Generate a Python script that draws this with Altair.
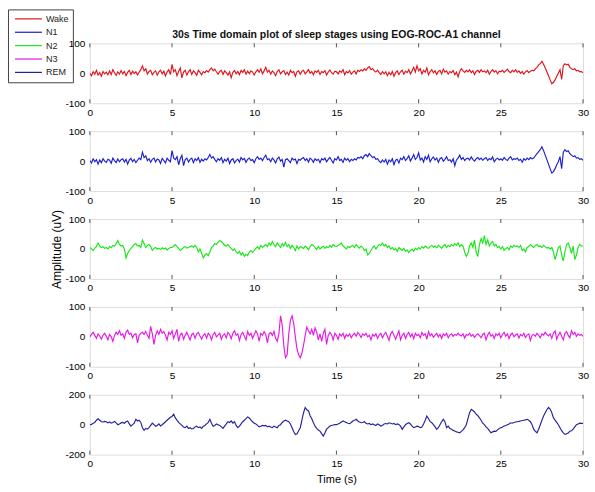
import altair as alt
import pandas as pd

TITLE = "30s Time domain plot of sleep stages using EOG-ROC-A1 channel"
STAGES = ["Wake", "N1", "N2", "N3", "REM"]
COLORS = ["#e0141b", "#1a1fd0", "#18e818", "#e618e6", "#23239a"]
XTICKS = [0, 5, 10, 15, 20, 25, 30]
YTICKS_SMALL = [-100, 0, 100]
YTICKS_LARGE = [-200, 0, 200]
STEP = 0.1  # seconds between samples

WAKE = [
    0, -8, 5, -3, 10, -6, 2, -10, 6, -2,
    4, -5, 8, -4, 12, 2, -7, 5, -3, 9,
    -2, 6, -8, 3, 10, -4, 7, -1, 5, -6,
    4, 12, 25, 8, 15, -3, 6, 10, -5, 3,
    8, -6, 5, 10, -2, 7, -9, 4, 12, -4,
    30, 5, 12, -8, 6, 18, -15, 4, 10, -6,
    5, 12, -4, 8, 2, -7, 10, 3, -5, 6,
    2, 9, 4, 12, 18, 8, 14, 5, -3, 6,
    10, -4, 8, 2, -6, 5, -15, 3, 9, -2,
    6, -5, 10, 3, 12, -3, 7, -1, 8, 4,
    -6, 5, 12, 3, 15, -2, 8, 20, 4, 10,
    -3, 8, 2, -8, 6, 12, -2, 5, 9, -4,
    4, -6, 10, 2, 6, -10, 5, 8, -3, 7,
    10, -2, 5, 12, 0, 6, -5, 8, 3, 10,
    -4, 6, 2, 9, -6, 4, 11, 2, -3, 7,
    5, -2, 8, 3, 12, -5, 6, 1, 9, -3,
    4, 8, -2, 10, 6, 12, 8, 15, 10, 18,
    22, 12, 16, 8, 4, 10, 2, -4, 6, -2,
    5, -8, 3, -5, 6, -10, 2, 8, -4, 5,
    10, -3, 7, 2, 12, -2, 8, 20, 4, 25,
    8, 15, -2, 10, 4, 18, -5, 6, 12, 2,
    8, -4, 6, 10, -2, 14, 4, 8, -3, 6,
    2, 9, -5, 4, -12, 6, 15, 8, 3, 10,
    5, 12, 2, 8, -4, 6, 10, 3, 12, 5,
    8, 2, 10, -3, 6, 12, 4, 9, -2, 7,
    5, 10, 3, 8, 14, 6, 2, 10, 5, 12,
    3, 8, 0, 6, -3, 5, 9, 2, 7, 10,
    8, 15, 20, 28, 32, 40, 30, 18, 5, -8,
    -22, -35, -30, -22, -10, 0, 12, -20, 25, 32,
    28, 30, 20, 15, 12, 15, 8, 10, 5, 6,
    2,
]

N1 = [
    2, -6, 8, -2, 5, -10, 4, -5, 8, 0,
    -4, 6, 3, -7, 10, 2, -5, 7, -2, 5,
    8, -3, 6, -10, 4, 9, -2, 6, -5, 3,
    10, 5, 30, 12, 18, 2, 8, -4, 6, 10,
    -3, 7, 4, -8, 9, 2, -6, 10, 3, -2,
    35, 10, 5, 15, -12, 8, 20, -15, 5, 10,
    -3, 6, 10, -5, 8, 2, 12, -4, 6, 0,
    8, 4, 12, 22, 10, 15, 6, -2, 8, 3,
    12, -5, 6, 0, 10, -8, 4, 8, -6, 2,
    7, -3, 12, 4, 9, -4, 6, 10, 2, 5,
    -5, 8, 15, 6, 10, 2, 12, 20, 5, 8,
    -2, 10, 4, -6, 8, 14, 0, 6, -20, 5,
    8, 2, -5, 10, 4, 7, -8, 6, 3, 9,
    12, 2, 8, -3, 10, 5, -4, 8, 2, 6,
    -5, 8, 4, 10, -2, 6, 12, 3, -6, 8,
    4, 15, 2, 6, -4, 10, 3, 8, -2, 6,
    2, 8, 4, 12, 10, 15, 8, 18, 22, 15,
    25, 18, 12, 15, 6, 8, 0, -5, 4, -3,
    6, -10, 4, -2, 8, -12, 3, 6, -6, 10,
    5, 15, 2, 8, 18, 0, 10, 22, 6, 12,
    28, 4, 10, -3, 15, 6, 20, -2, 8, 14,
    4, 10, -4, 8, 12, 0, 6, 15, 2, 5,
    -3, 8, -15, 4, 10, 20, 6, 12, 2, 8,
    10, 4, 14, 6, 0, 8, 12, 5, 10, 3,
    8, 12, 2, 9, 5, 14, -2, 6, 10, 4,
    8, 3, 12, 6, 2, 10, 15, 4, 8, 6,
    10, 2, 6, -4, 8, 3, 10, 5, 12, 8,
    10, 18, 25, 32, 38, 48, 35, 20, 5, -10,
    -25, -40, -35, -25, -12, -2, 15, -25, 30, 38,
    32, 35, 25, 20, 15, 18, 10, 12, 6, 8,
    3,
]

N2 = [
    5, 0, -5, 3, 8, 20, 10, 4, 8, 2,
    5, 0, 8, 4, 12, 10, 18, 28, 15, 10,
    12, 0, -30, -15, -5, 2, 8, 15, 18, 10,
    12, 5, 30, 18, 5, 12, 15, 8, -5, 2,
    5, 0, 2, -2, 4, 0, 3, -4, 2, 5,
    5, 10, 15, 8, 2, -5, 0, 5, 8, 3,
    5, 8, 10, 6, 12, 5, -10, 0, -15, -30,
    -20, -15, -22, -10, 5, 10, 18, 15, 22, 28,
    25, 20, 12, 10, 15, 8, 2, -5, 0, -10,
    -15, -8, -20, -12, -25, -18, -22, -10, -5, -12,
    -5, 2, 8, 0, 12, 5, 10, 15, 8, 20,
    12, 25, 15, 8, 20, 12, 5, 18, 10, 22,
    8, 15, 2, 12, 5, -5, 10, 0, 8, 5,
    2, 10, 5, -3, 8, 15, 12, 5, -2, 8,
    0, 5, 10, 2, 8, 4, 12, 6, 15, 10,
    8, 12, 15, 20, 10, 5, 0, 8, 5, 10,
    12, 5, 15, 8, 3, 10, 5, -5, 0, -20,
    -15, -5, 5, 10, 0, 8, 15, 12, 20, 10,
    15, 5, 10, 0, 5, -3, 2, -8, 5, 0,
    -5, 2, -8, -3, -12, -5, 0, -8, 3, -2,
    5, 0, 8, 3, 10, 5, 2, 8, 12, 6,
    10, 4, 12, 8, 2, 10, 15, 5, 12, 8,
    15, 10, 18, 12, 20, 8, 15, 10, -10, -25,
    -15, 10, 20, 5, 30, -10, -25, 15, 35, 20,
    45, 15, 30, 10, 20, 25, 10, 15, 5, 8,
    0, 8, -5, 2, 5, -3, 10, 5, 12, 8,
    10, 5, 12, -5, 0, -10, 5, 8, 15, 10,
    5, 12, 15, 8, 10, 5, 12, 8, 3, 5,
    0, 5, -10, -35, -15, 5, 10, -20, -40, -10,
    15, 20, 5, -15, 10, -35, -20, 5, 15, 10,
    10,
]

N3 = [
    0, 8, 15, 5, -5, 10, 3, -8, 5, 12,
    2, -10, 8, 0, -15, 5, 15, 8, 20, 5,
    10, -5, 15, 22, 8, 12, -3, 8, 10, -20,
    5, 12, 15, 8, 18, 5, -5, 35, 10, -25,
    5, 20, 8, 25, 12, 18, 5, -10, 15, 8,
    20, -5, 10, 25, -15, 8, 12, -8, 5, 15,
    2, -10, 8, 12, -5, 10, 15, 3, -8, 5,
    10, -5, 12, 5, -10, 8, 15, 0, 6, 12,
    -8, 5, 10, -3, 15, 8, -6, 12, 20, 5,
    10, -12, 8, 15, 2, -10, 18, 5, 12, -5,
    8, 20, 10, -15, 12, 5, 18, 8, -20, 10,
    15, 5, 18, -5, -15, 10, 70, 40, -30, -70,
    -60, 10, 55, 70, 45, 0, -40, -60, -70, -55,
    -28, 5, 33, 20, 10, 25, 5, 30, 15, -10,
    10, -15, 12, 25, -25, 5, 15, 8, -10, 12,
    5, -8, 10, 3, 12, -5, 8, 2, 10, -3,
    6, 12, 2, 15, 8, -2, 10, 5, 12, 0,
    5, -10, 8, 2, 10, -5, 6, 12, -3, 8,
    15, 2, -12, 10, 18, 5, -8, 6, 20, -10,
    5, 12, -5, 8, 15, 0, 10, -6, 12, 4,
    8, -3, 15, 5, 10, -8, 18, 3, 10, -2,
    6, 12, 0, 8, -5, 10, 4, 12, -3, 6,
    10, 2, 8, 5, 12, 6, 3, 10, -4, 8,
    5, 12, 2, 8, -2, 6, 10, 4, -3, 8,
    12, -10, 6, 15, 2, 8, -5, 10, 4, 12,
    -3, 8, 15, 2, 10, -6, 8, 12, 0, 6,
    10, -4, 8, 3, 12, -2, 6, 10, -12, 5,
    8, 2, 12, 5, -3, 10, 6, 15, 8, 3,
    10, -5, 12, 20, -8, 6, 15, 2, -10, 12,
    18, 5, -3, 20, 8, 15, 2, 10, 5, 8,
    2,
]

REM = [
    0, 2, 10, 15, 30, 40, 30, 20, 18, 22,
    20, 12, 18, 10, 15, 22, 12, 0, 5, 12,
    15, 10, 20, 25, 5, -10, 0, 10, 36, 25,
    30, 15, -20, -38, -25, -30, -20, -5, 10, 0,
    -10, -5, 5, -8, 0, 10, 20, 30, 40, 50,
    55, 70, 45, 30, 15, 5, -5, -15, -20, -10,
    -25, -20, -28, -25, -15, -10, -20, -15, -25, -10,
    -5, 5, 15, 36, 10, -10, -5, 5, 0, -5,
    -15, -25, -10, 5, 20, 15, 25, 10, 20, -5,
    -20, -10, 5, 20, 30, 40, 52, 45, 30, 20,
    10, 5, -5, -15, -10, -5, -8, -5, -15, -10,
    -15, -20, -10, -15, -20, -5, 0, 15, 25, 30,
    25, 20, 5, -20, -45, -65, -60, -40, -20, 30,
    80, 115, 100, 92, 60, 40, 13, -10, -25, -35,
    -43, -60, -76, -55, -30, -20, -9, -5, -2, 0,
    0, 5, 10, 18, 25, 20, 15, 10, 7, 15,
    25, 30, 36, 25, 18, 13, 15, 20, 10, 5,
    8, 0, 5, 0, -5, 5, 0, -9, -5, 5,
    8, 5, 13, 10, 5, 8, 0, 5, 2, -10,
    -31, -15, 0, 8, 13, 5, -10, -20, -15, -10,
    -12, -20, -15, 5, 30, 58, 40, 20, 13, 0,
    -15, -31, -20, 0, 20, 36, 20, -20, -10, -25,
    -30, -38, -42, -48, -50, -54, -45, -35, -20, 0,
    40, 80, 103, 95, 85, 70, 60, 45, 30, 10,
    0, -15, -25, -40, -54, -48, -43, -45, -35, -25,
    -20, -15, -9, -5, 0, 5, 13, 10, 15, 18,
    20, 22, 25, 28, 30, 32, 36, 30, 20, 0,
    -30, -45, -54, -30, 0, 30, 58, 80, 100, 115,
    105, 80, 47, 30, 15, 0, -20, -40, -55, -65,
    -60, -55, -43, -40, -30, -15, 0, 5, 10, 9,
    9,
]

SERIES = [WAKE, N1, N2, N3, REM]
for s in SERIES:
    assert len(s) == 301, len(s)

W, H = 494, 60
FONT = "Liberation Sans"
FRAME = "#555555"
TEXT = "#333333"


def panel(i):
    name = STAGES[i]
    values = SERIES[i]
    times = [round(k * STEP, 1) for k in range(len(values))]
    df = pd.DataFrame({"t": times, "v": values, "stage": name})
    yticks = YTICKS_LARGE if name == "REM" else YTICKS_SMALL
    ydom = [yticks[0], yticks[-1]]

    xaxis = dict(values=XTICKS, ticks=False, domain=False, grid=False,
                 labelPadding=4, format="d", labelFlush=False)
    if name == "REM":
        xaxis.update(title="Time (s)", titlePadding=5, titleFontWeight="normal",
                     titleFontSize=11)
    else:
        xaxis.update(title="")
    yaxis = dict(values=yticks, ticks=False, domain=False, grid=False,
                 labelPadding=5, labelExpr="datum.value", labelFlush=False)
    if name == "N2":
        yaxis.update(title="Amplitude (uV)", titleX=-33, titleY=H / 2,
                     titleAlign="center", titleBaseline="middle", titleAngle=270,
                     titleFontSize=12, titleFontWeight="normal")
    else:
        yaxis.update(title="")

    if i == 0:
        legend = alt.Legend(
            orient="none", legendX=-82, legendY=-34, title=None,
            symbolType="M-0.55,0H5.45", symbolSize=81, symbolStrokeWidth=1.2,
            labelOffset=23, labelFontSize=9, labelFont=FONT, labelColor="#222",
            rowPadding=2.4, padding=4, strokeColor="#444",
        )
    else:
        legend = None

    color_kw = dict(scale=alt.Scale(domain=STAGES, range=COLORS))
    if legend is None:
        color = alt.Color("stage:N", legend=None, **color_kw)
    else:
        color = alt.Color("stage:N", legend=legend, **color_kw)

    line = alt.Chart(df).mark_line(strokeWidth=1.15, clip=True).encode(
        x=alt.X("t:Q", scale=alt.Scale(domain=[0, 30], nice=False), axis=alt.Axis(**xaxis)),
        y=alt.Y("v:Q", scale=alt.Scale(domain=ydom, nice=False), axis=alt.Axis(**yaxis)),
        color=color,
    )
    tick_df = pd.DataFrame({"t": XTICKS})
    top_ticks = alt.Chart(tick_df).mark_rule(color=FRAME, strokeWidth=1).encode(
        x="t:Q", y=alt.value(0), y2=alt.value(4))
    bot_ticks = alt.Chart(tick_df).mark_rule(color=FRAME, strokeWidth=1).encode(
        x="t:Q", y=alt.value(H - 4), y2=alt.value(H))
    props = dict(width=W, height=H)
    if i == 0:
        props["title"] = alt.TitleParams(TITLE, fontSize=10.5, fontWeight="bold",
                                         font=FONT, anchor="middle", offset=-2,
                                         color="#111")
    return alt.layer(line, top_ticks, bot_ticks).properties(**props)


chart = alt.vconcat(*[panel(i) for i in range(5)], spacing=28, bounds="flush").properties(
    padding={"left": 7, "top": 8, "right": 5, "bottom": 5},
).configure_view(stroke=FRAME, strokeWidth=1).configure_axis(
    labelFont=FONT, labelFontSize=10, labelColor=TEXT,
    titleFont=FONT, titleFontSize=11, titleColor="#222", titleFontWeight="normal",
).configure(background="white")

chart.save("out.html", embed_options={"renderer": "svg", "actions": False})
